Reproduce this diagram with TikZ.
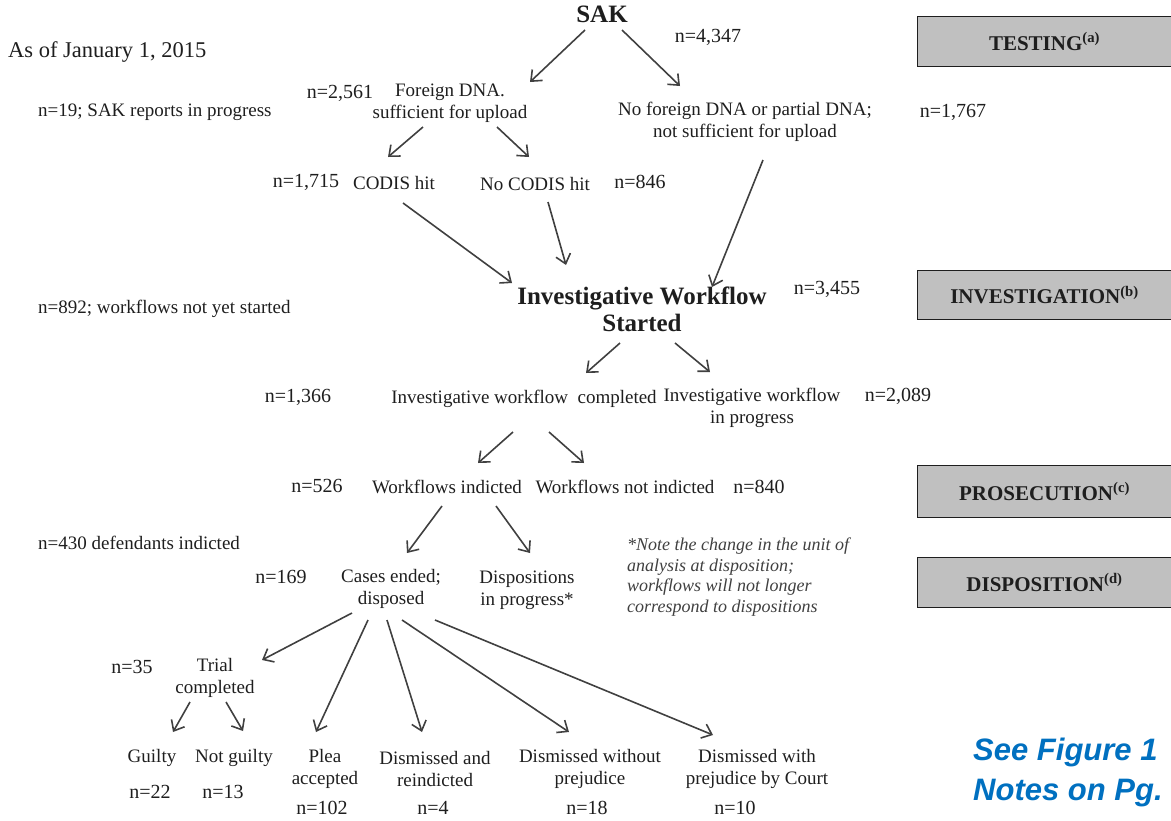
\documentclass[tikz,border=0pt]{standalone}
\usepackage{fontspec}
\setmainfont{Liberation Serif}
\newfontfamily\bluefont{Liberation Sans}
\usetikzlibrary{arrows.meta,calc}
\definecolor{boxgray}{RGB}{192,192,192}
\definecolor{seeblue}{RGB}{0,112,192}
\definecolor{ink}{RGB}{30,30,30}
\begin{document}
\begin{tikzpicture}[x=1pt,y=-1pt,
  lbl/.style={inner sep=0pt, font=\fontsize{19}{22}\selectfont, align=center, text=ink},
  num/.style={inner sep=0pt, font=\fontsize{20}{22}\selectfont, text=ink},
  bhead/.style={inner sep=0pt, font=\bfseries\fontsize{25}{27}\selectfont, align=center, text=ink},
  notetext/.style={inner sep=0pt, font=\itshape\fontsize{18}{20.5}\selectfont, align=left, text=ink!85},
  stage/.style={fill=boxgray, minimum width=253pt, inner sep=0pt, font=\bfseries\fontsize{21}{24}\selectfont, text=ink},
  stageline/.style={draw=ink, line width=1.2pt},
  arr/.style={draw=ink!85, line width=1.6pt, -{Straight Barb[length=9pt,width=15pt,line width=1.6pt]}},
]
\useasboundingbox (0,0) rectangle (1171,820);

% stage boxes
\node[stage, minimum height=49pt] (testing) at (1044.5,41.5) {TESTING\textsuperscript{(a)}};
\node[stage, minimum height=48pt] (investigation) at (1044.5,295) {INVESTIGATION\textsuperscript{(b)}};
\node[stage, minimum height=51pt] (prosecution) at (1044.5,491.5) {PROSECUTION\textsuperscript{(c)}};
\node[stage, minimum height=49pt] (disposition) at (1044.5,582.5) {DISPOSITION\textsuperscript{(d)}};
\foreach \b in {testing,investigation,prosecution,disposition}{
  \draw[stageline] (\b.north east) -- (\b.north west) -- (\b.south west) -- (\b.south east);
}

% top
\node[bhead] (sak) at (602,14) {SAK};
\node[num] (n4347) at (708,37) {n=4,347};
\node[inner sep=0pt, anchor=west, font=\fontsize{22.5}{24}\selectfont, text=ink] (asof) at (8,52) {As of January 1, 2015};
\node[lbl, anchor=west] (n19) at (38,112) {n=19; SAK reports in progress};
\node[num] (n2561) at (340,93) {n=2,561};
\node[lbl] (foreign) at (450,103) {Foreign DNA.\\sufficient for upload};
\node[lbl] (nofor) at (745,122) {No foreign DNA or partial DNA;\\not sufficient for upload};
\node[num] (n1767) at (953,112) {n=1,767};
\node[num] (n1715) at (306,182) {n=1,715};
\node[lbl] (codis) at (394,183) {CODIS hit};
\node[lbl] (nocodis) at (535,184) {No CODIS hit};
\node[num] (n846) at (640,182) {n=846};

% investigation
\node[bhead] (inv) at (642,309) {Investigative Workflow\\Started};
\node[num] (n3455) at (827,289) {n=3,455};
\node[lbl, anchor=west] (n892) at (38,309) {n=892; workflows not yet started};
\node[num] (n1366) at (298,397) {n=1,366};
\node[lbl] (completed) at (524,399) {Investigative workflow\ \ completed};
\node[lbl] (inprog) at (752,408) {Investigative workflow\\in progress};
\node[num] (n2089) at (898,396) {n=2,089};

% prosecution
\node[num] (n526) at (317,486) {n=526};
\node[lbl] (indicted) at (447,487) {Workflows indicted};
\node[lbl] (notind) at (625,487) {Workflows not indicted};
\node[num] (n840) at (759,487) {n=840};
\node[lbl, anchor=west] (n430) at (38,543) {n=430 defendants indicted};

% disposition
\node[num] (n169) at (281,577) {n=169};
\node[lbl] (cases) at (391,589) {Cases ended;\\disposed};
\node[lbl] (disp) at (527,590) {Dispositions\\in progress*};
\node[notetext, anchor=west] (note) at (627,577) {*Note the change in the unit of\\analysis at disposition;\\workflows will not longer\\correspond to dispositions};

\node[num] (n35) at (132,667) {n=35};
\node[lbl] (trial) at (215,678) {Trial\\completed};
\node[lbl] (guilty) at (152,758) {Guilty};
\node[lbl] (notguilty) at (234,758) {Not guilty};
\node[lbl] (plea) at (325,769) {Plea\\accepted};
\node[lbl] (reind) at (435,769) {Dismissed and\\reindicted};
\node[lbl] (without) at (590,769) {Dismissed without\\prejudice};
\node[lbl] (withp) at (757,769) {Dismissed with\\prejudice by Court};
\node[num] (n22) at (150,792) {n=22};
\node[num] (n13) at (223,792) {n=13};
\node[num] (n102) at (322,808) {n=102};
\node[num] (n4) at (433,808) {n=4};
\node[num] (n18) at (587,808) {n=18};
\node[num] (n10) at (735,808) {n=10};

\node[inner sep=0pt, anchor=west, align=left, text=seeblue, font=\bluefont\bfseries\itshape\fontsize{31}{40}\selectfont] (see) at (973,772) {See Figure 1\\Notes on Pg.};

% connectors
\draw[arr] ($(sak)+(-17,16)$) -- ($(foreign)+(80,-21)$);
\draw[arr] ($(sak)+(20,16)$) -- ($(nofor)+(-65,-36)$);
\draw[arr] ($(foreign)+(-27,24)$) -- ($(codis)+(-6,-26)$);
\draw[arr] ($(foreign)+(47,24)$) -- ($(nocodis)+(-6,-27)$);
\draw[arr] ($(codis)+(9,20)$) -- ($(inv)+(-130,-26)$);
\draw[arr] ($(nocodis)+(13,18)$) -- ($(inv)+(-76,-44)$);
\draw[arr] ($(nofor)+(18,38)$) -- ($(inv)+(70,-22)$);
\draw[arr] ($(inv)+(-22,34)$) -- ($(completed)+(62,-26)$);
\draw[arr] ($(inv)+(33,34)$) -- ($(inprog)+(-42,-36)$);
\draw[arr] ($(completed)+(-11,33)$) -- ($(indicted)+(31,-24)$);
\draw[arr] ($(completed)+(25,33)$) -- ($(notind)+(-41,-24)$);
\draw[arr] ($(indicted)+(-5,19)$) -- ($(cases)+(16,-36)$);
\draw[arr] ($(indicted)+(49,19)$) -- ($(disp)+(3,-37)$);
\draw[arr] ($(cases)+(-39,24)$) -- ($(trial)+(47,-18)$);
\draw[arr] ($(cases)+(-23,31)$) -- ($(plea)+(-9,-37)$);
\draw[arr] ($(cases)+(-4,31)$) -- ($(reind)+(-13,-37)$);
\draw[arr] ($(cases)+(11,31)$) -- ($(without)+(-21,-37)$);
\draw[arr] ($(cases)+(44,31)$) -- ($(withp)+(-44,-34)$);
\draw[arr] ($(trial)+(-25,24)$) -- ($(guilty)+(21,-26)$);
\draw[arr] ($(trial)+(11,24)$) -- ($(notguilty)+(9,-27)$);
\end{tikzpicture}
\end{document}
